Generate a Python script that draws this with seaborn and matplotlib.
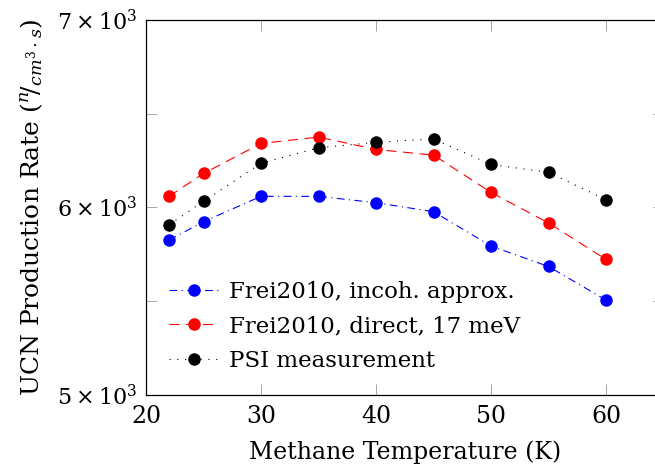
import numpy as np
import pandas as pd
import matplotlib
matplotlib.use("Agg")
import matplotlib.pyplot as plt
import seaborn as sns
from matplotlib.ticker import FixedLocator, FuncFormatter

temps = [22, 25, 30, 35, 40, 45, 50, 55, 60]
frei_incoh = [5826, 5924, 6059, 6059, 6025, 5977, 5794, 5685, 5506]
frei_direct = [6059, 6181, 6341, 6375, 6309, 6279, 6080, 5917, 5723]
psi_meas = [5908, 6032, 6235, 6318, 6347, 6365, 6229, 6187, 6041]

labels = ["Frei2010, incoh. approx.", "Frei2010, direct, 17 meV", "PSI measurement"]
colors = ["blue", "red", "black"]
dash_styles = [(7, 4, 1, 4), (9, 6), (1, 6)]

sns.set_style("ticks")
plt.rcParams['font.family'] = ['DejaVu Serif']
plt.rcParams['mathtext.fontset'] = 'dejavuserif'
plt.rcParams['text.color'] = 'black'
plt.rcParams['axes.labelcolor'] = 'black'
plt.rcParams['axes.edgecolor'] = 'black'

fig = plt.figure(figsize=(6.55, 4.73), dpi=100)
ax = fig.add_axes([0.223, 0.165, 0.79, 0.793])

for vals, lab, c, d in zip([frei_incoh, frei_direct, psi_meas], labels, colors, dash_styles):
    df = pd.DataFrame({'T': temps, 'rate': vals})
    sns.lineplot(data=df, x='T', y='rate', ax=ax, color=c, dashes=d,
                 marker='o', markersize=9, markeredgewidth=0, linewidth=0.8,
                 label=lab)

ax.set_xlim(20, 65)
ax.set_ylim(5000, 7000)
ax.set_xticks([20, 30, 40, 50, 60])
ax.yaxis.set_major_locator(FixedLocator([5000, 6000, 7000]))
ax.yaxis.set_minor_locator(FixedLocator([5500, 6500]))
ax.yaxis.set_major_formatter(FuncFormatter(lambda v, p: r"$%d\times10^{3}$" % round(v / 1000)))
ax.tick_params(which='both', direction='in', top=True, right=True,
               length=8, width=0.6, color='#999999', labelcolor='black')
ax.tick_params(axis='x', labelsize=17, pad=7)
ax.tick_params(axis='y', labelsize=16, pad=6)
for s in ax.spines.values():
    s.set_linewidth(0.9)

ax.set_xlabel("Methane Temperature (K)", fontsize=17, labelpad=9)
ax.set_ylabel(r"UCN Production Rate $({}^{n}\!/_{cm^{3}\cdot s})$", fontsize=18, labelpad=9)

leg = ax.legend(loc='lower left', frameon=False, fontsize=16.5, handlelength=2.2,
                borderaxespad=0.6, labelspacing=0.55, handletextpad=0.4)

fig.savefig("out.png", dpi=100)
